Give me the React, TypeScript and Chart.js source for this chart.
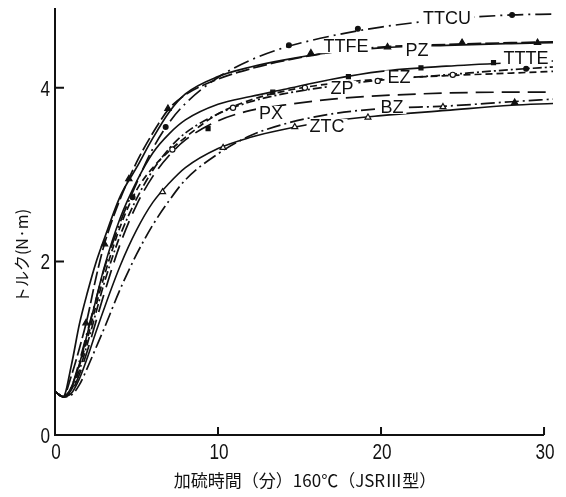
import { useEffect, useRef } from "react";
import { Chart, registerables } from "chart.js";

Chart.register(...registerables);

// ---- data (cure time in minutes, torque in N·m) ----
const TIME = [0, 0.5, 1, 1.5, 2, 2.5, 3, 4, 5, 6, 7, 8, 10, 12, 14, 17, 20, 24, 28, 30.55];

const TTCU = [0.5, 0.44, 0.55, 0.85, 1.2, 1.55, 1.9, 2.45, 2.9, 3.3, 3.6, 3.82, 4.12, 4.32, 4.46, 4.6, 4.7, 4.79, 4.84, 4.85];
const TTFE = [0.5, 0.44, 0.8, 1.28, 1.65, 1.98, 2.25, 2.75, 3.08, 3.42, 3.72, 3.93, 4.13, 4.24, 4.32, 4.41, 4.46, 4.49, 4.51, 4.52];
const PZ = [0.5, 0.44, 0.68, 1.0, 1.36, 1.8, 2.18, 2.72, 3.14, 3.48, 3.76, 3.92, 4.1, 4.22, 4.31, 4.41, 4.47, 4.5, 4.52, 4.53];
const TTTE = [0.5, 0.44, 0.55, 0.82, 1.18, 1.55, 1.92, 2.5, 2.92, 3.25, 3.47, 3.63, 3.81, 3.9, 3.98, 4.1, 4.19, 4.25, 4.29, 4.31];
const EZ = [0.5, 0.44, 0.52, 0.75, 1.06, 1.4, 1.74, 2.3, 2.72, 3.05, 3.3, 3.48, 3.7, 3.84, 3.93, 4.02, 4.09, 4.15, 4.21, 4.24];
const ZP = [0.5, 0.44, 0.54, 0.8, 1.12, 1.48, 1.82, 2.4, 2.82, 3.08, 3.27, 3.43, 3.7, 3.86, 3.96, 4.05, 4.1, 4.14, 4.17, 4.19];
const PX = [0.5, 0.44, 0.5, 0.7, 0.98, 1.3, 1.62, 2.2, 2.65, 2.98, 3.22, 3.4, 3.62, 3.74, 3.8, 3.87, 3.91, 3.94, 3.95, 3.95];
const BZ = [0.5, 0.44, 0.46, 0.58, 0.78, 1.0, 1.22, 1.68, 2.08, 2.42, 2.7, 2.94, 3.24, 3.45, 3.58, 3.7, 3.76, 3.79, 3.84, 3.87];
const ZTC = [0.5, 0.44, 0.48, 0.65, 0.9, 1.18, 1.45, 1.95, 2.36, 2.68, 2.9, 3.08, 3.3, 3.43, 3.52, 3.62, 3.68, 3.74, 3.8, 3.82];

// markers: [time, torque]
const DOTS_FILLED = [[4.76, 2.74], [6.79, 3.55], [14.35, 4.49], [18.58, 4.68], [28.04, 4.84], [28.9, 4.22]];
const TRI_FILLED = [[1.9, 1.29], [3.04, 2.2], [4.53, 2.95], [6.93, 3.76], [15.7, 4.4], [20.4, 4.47], [24.97, 4.52], [29.6, 4.52], [28.2, 3.83]];
const SQUARES = [[9.39, 3.53], [13.36, 3.95], [18.0, 4.13], [22.45, 4.23], [26.9, 4.29]];
const CIRCLES_OPEN = [[7.2, 3.29], [10.92, 3.77], [15.33, 4.0], [19.8, 4.08], [24.4, 4.15]];
const TRI_OPEN = [[6.6, 2.8], [10.31, 3.31], [14.71, 3.55], [19.2, 3.66], [23.8, 3.78]];

const LABELS = ["TTCU", "TTFE", "PZ", "TTTE", "EZ", "ZP", "PX", "BZ", "ZTC"];
const LABEL_X = [24.05, 17.85, 22.2, 28.9, 21.1, 17.6, 13.25, 20.67, 16.69];
const LABEL_Y = [4.81, 4.48, 4.44, 4.34, 4.12, 4.0, 3.71, 3.78, 3.56];

const X_TICKS = [0, 10, 20, 30];
const Y_TICKS = [0, 2, 4];
const X_MAX = 30.55;
const Y_MAX = 4.92;

const X_TITLE = "加硫時間（分）160℃（JSRⅢ型）";
const Y_TITLE = "トルク(N·m)";

const INK = "#111";
const TICK_FONT = '22px "Liberation Sans", Arial, sans-serif';
const NARROW = 0.78;

const toPoints = (ys: number[]) => ys.map((v, i) => ({ x: TIME[i], y: v }));
const pairs = (arr: number[][]) => arr.map(([x, y]) => ({ x, y }));

const overlay = {
  id: "overlay",
  beforeDraw(chart: any) {
    const { ctx, width, height } = chart;
    ctx.save();
    ctx.fillStyle = "#fff";
    ctx.fillRect(0, 0, width, height);
    ctx.restore();
  },
  afterDatasetsDraw(chart: any) {
    const { ctx } = chart;
    const xs = chart.scales.x;
    const ys = chart.scales.y;
    ctx.save();
    // inline curve labels
    ctx.font = '18px "Liberation Sans", Arial, sans-serif';
    ctx.textAlign = "center";
    ctx.textBaseline = "middle";
    LABELS.forEach((t, i) => {
      const px = xs.getPixelForValue(LABEL_X[i]);
      const py = ys.getPixelForValue(LABEL_Y[i]);
      const w = ctx.measureText(t).width;
      ctx.fillStyle = "#fff";
      ctx.fillRect(px - w / 2 - 3, py - 7, w + 6, 14);
      ctx.fillStyle = INK;
      ctx.fillText(t, px, py + 1);
    });
    // axes
    const x0 = xs.getPixelForValue(0);
    const x30 = xs.getPixelForValue(30);
    const y0 = ys.getPixelForValue(0);
    const yTop = ys.getPixelForValue(Y_MAX);
    ctx.strokeStyle = INK;
    ctx.lineWidth = 2;
    ctx.beginPath();
    ctx.moveTo(x0, yTop);
    ctx.lineTo(x0, y0);
    ctx.lineTo(x30, y0);
    ctx.stroke();
    ctx.beginPath();
    X_TICKS.filter((v) => v > 0).forEach((v) => {
      const px = xs.getPixelForValue(v);
      ctx.moveTo(px, y0);
      ctx.lineTo(px, y0 - 8);
    });
    Y_TICKS.filter((v) => v > 0).forEach((v) => {
      const py = ys.getPixelForValue(v);
      ctx.moveTo(x0, py);
      ctx.lineTo(x0 + 9, py);
    });
    ctx.stroke();
    ctx.restore();
  },
  afterDraw(chart: any) {
    const { ctx } = chart;
    const xs = chart.scales.x;
    const ys = chart.scales.y;
    ctx.save();
    ctx.fillStyle = INK;
    // tick labels (narrow numerals like the original)
    ctx.font = TICK_FONT;
    ctx.textBaseline = "alphabetic";
    const y0 = ys.getPixelForValue(0);
    X_TICKS.forEach((v) => {
      ctx.save();
      ctx.translate(xs.getPixelForValue(v) + 1, y0 + 24);
      ctx.scale(NARROW, 1);
      ctx.textAlign = "center";
      ctx.fillText(String(v), 0, 0);
      ctx.restore();
    });
    Y_TICKS.forEach((v) => {
      ctx.save();
      ctx.translate(xs.getPixelForValue(0) - 5, ys.getPixelForValue(v) + 8);
      ctx.scale(NARROW, 1);
      ctx.textAlign = "right";
      ctx.fillText(String(v), 0, 0);
      ctx.restore();
    });
    // axis titles
    ctx.textAlign = "center";
    ctx.textBaseline = "middle";
    ctx.font = '17px "Noto Sans CJK JP", sans-serif';
    ctx.fillText(X_TITLE, 305, 481);
    ctx.translate(22, 256);
    ctx.rotate(-Math.PI / 2);
    ctx.font = '16px "Noto Sans CJK JP", sans-serif';
    ctx.fillText(Y_TITLE, 0, 0);
    ctx.restore();
  },
};

export default function App() {
  const ref = useRef<HTMLCanvasElement | null>(null);

  useEffect(() => {
    if (!ref.current) return;
    const line = (label: string, ys: number[], dash: number[], width = 1.7) => ({
      type: "line" as const,
      label,
      data: toPoints(ys),
      borderColor: INK,
      borderWidth: width,
      borderDash: dash,
      pointRadius: 0,
      fill: false,
      cubicInterpolationMode: "monotone" as const,
      order: 2,
    });
    const marks = (label: string, pts: number[][], style: string, fillColor: string, r: number) => ({
      type: "scatter" as const,
      label,
      data: pairs(pts),
      pointStyle: style,
      pointRadius: r,
      pointBackgroundColor: fillColor,
      pointBorderColor: INK,
      pointBorderWidth: 1.2,
      showLine: false,
      order: 0,
    });

    const chart = new Chart(ref.current, {
      type: "line",
      data: {
        datasets: [
          line("TTCU", TTCU, [16, 5, 2, 5]),
          line("TTFE", TTFE, []),
          line("PZ", PZ, [14, 4]),
          line("TTTE", TTTE, [], 1.6),
          line("EZ", EZ, [9, 3, 2, 3]),
          line("ZP", ZP, [7, 4]),
          line("PX", PX, [18, 8]),
          line("BZ", BZ, [14, 4, 2, 4]),
          line("ZTC", ZTC, [], 1.6),
          marks("dots", DOTS_FILLED, "circle", INK, 2.4),
          marks("triangles", TRI_FILLED, "triangle", INK, 3.6),
          marks("squares", SQUARES, "rect", INK, 2.8),
          marks("circles", CIRCLES_OPEN, "circle", "#fff", 2.6),
          marks("open triangles", TRI_OPEN, "triangle", "#fff", 3.4),
        ] as any,
      },
      options: {
        responsive: false,
        animation: false,
        devicePixelRatio: 1,
        layout: { padding: { left: 0, right: 13, top: 8, bottom: 0 } },
        plugins: { legend: { display: false }, tooltip: { enabled: false } },
        scales: {
          x: {
            type: "linear",
            min: 0,
            max: X_MAX,
            grid: { display: false, drawTicks: false },
            border: { display: false },
            ticks: { display: false },
            afterBuildTicks: (s: any) => {
              s.ticks = X_TICKS.map((v) => ({ value: v }));
            },
            afterFit: (s: any) => {
              s.height = 62;
              s.paddingLeft = 0;
              s.paddingRight = 0;
            },
          },
          y: {
            type: "linear",
            min: 0,
            max: Y_MAX,
            grid: { display: false, drawTicks: false },
            border: { display: false },
            ticks: { display: false },
            afterBuildTicks: (s: any) => {
              s.ticks = Y_TICKS.map((v) => ({ value: v }));
            },
            afterFit: (s: any) => {
              s.width = 55;
              s.paddingTop = 0;
              s.paddingBottom = 0;
            },
          },
        },
      } as any,
      plugins: [overlay],
    });
    return () => chart.destroy();
  }, []);

  return (
    <div style={{ position: "fixed", left: 0, top: 0, width: 566, height: 497, background: "#fff" }}>
      <canvas ref={ref} width={566} height={497} />
    </div>
  );
}
